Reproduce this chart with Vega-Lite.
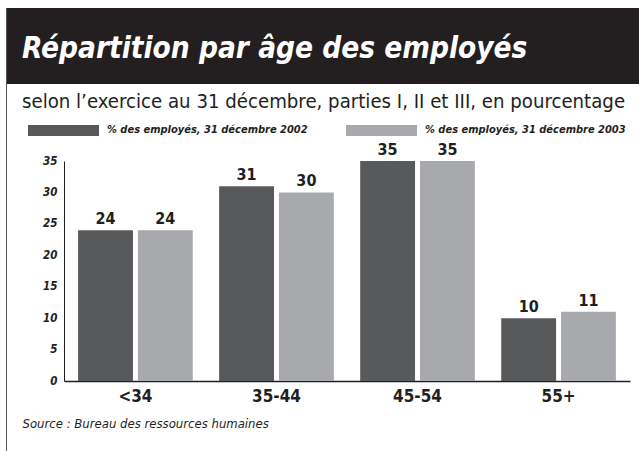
{
  "$schema": "https://vega.github.io/schema/vega-lite/v6.json",
  "padding": {"left": 6, "top": 8, "right": 0, "bottom": 0},
  "background": "white",
  "spacing": 0,
  "resolve": {"scale": {"color": "independent"}, "legend": {"color": "independent"}},
  "config": {
    "font": "DejaVu Sans Condensed, DejaVu Sans, sans-serif"
  },
  "hconcat": [
    {
      "width": 1,
      "height": 443,
      "view": {"stroke": null},
      "data": {"values": [{"band": "border"}]},
      "mark": {"type": "rect", "color": "#58595b"},
      "encoding": {}
    },
    {
      "spacing": 7,
      "resolve": {"scale": {"color": "independent"}, "legend": {"color": "independent"}},
      "vconcat": [
        {
          "width": 632,
          "height": 76,
          "view": {"fill": "#231f20", "stroke": null},
          "title": {
            "text": "Répartition par âge des employés",
            "anchor": "start",
            "frame": "group",
            "orient": "top",
            "baseline": "alphabetic",
            "offset": -79,
            "dx": 15,
            "fontSize": 29.5,
            "fontWeight": "bold",
            "fontStyle": "italic",
            "color": "white"
          },
          "data": {"values": [{"band": "header"}]},
          "mark": {"type": "rect", "color": "#231f20"},
          "encoding": {}
        },
        {
          "width": 632,
          "height": 220,
          "view": {"stroke": null},
          "title": {
            "text": "selon l’exercice au 31 décembre, parties I, II et III,  en pourcentage",
            "anchor": "start",
            "frame": "group",
            "orient": "top",
            "baseline": "alphabetic",
            "offset": -33.5,
            "dx": 15,
            "fontSize": 20.2,
            "fontWeight": "normal",
            "color": "#231f20"
          },
          "data": {
            "values": [
              {"age": "<34", "serie": "% des employés, 31 décembre 2002", "value": 24},
              {"age": "<34", "serie": "% des employés, 31 décembre 2003", "value": 24},
              {"age": "35-44", "serie": "% des employés, 31 décembre 2002", "value": 31},
              {"age": "35-44", "serie": "% des employés, 31 décembre 2003", "value": 30},
              {"age": "45-54", "serie": "% des employés, 31 décembre 2002", "value": 35},
              {"age": "45-54", "serie": "% des employés, 31 décembre 2003", "value": 35},
              {"age": "55+", "serie": "% des employés, 31 décembre 2002", "value": 10},
              {"age": "55+", "serie": "% des employés, 31 décembre 2003", "value": 11}
            ]
          },
          "encoding": {
            "x": {
              "field": "age",
              "type": "nominal",
              "sort": ["<34", "35-44", "45-54", "55+"],
              "scale": {"range": [57, 623], "paddingInner": 0.187, "paddingOuter": 0.1},
              "axis": {
                "title": "Source :  Bureau des ressources humaines",
                "titleFontSize": 13,
                "titleFontWeight": "normal",
                "titleFontStyle": "italic",
                "titleColor": "#231f20",
                "titleAnchor": "start",
                "titleAlign": "left",
                "titleBaseline": "alphabetic",
                "titleX": 15,
                "titleY": 46,
                "labelAngle": 0,
                "labelFontSize": 17,
                "labelFontWeight": "bold",
                "labelColor": "#231f20",
                "labelPadding": 7,
                "ticks": false,
                "domainColor": "#231f20",
                "domainWidth": 1.5
              }
            },
            "xOffset": {
              "field": "serie",
              "type": "nominal",
              "scale": {"paddingInner": 0.083, "paddingOuter": 0}
            },
            "y": {
              "field": "value",
              "type": "quantitative",
              "scale": {"domain": [0, 35], "nice": false},
              "axis": {
                "title": null,
                "offset": -57,
                "values": [0, 5, 10, 15, 20, 25, 30, 35],
                "grid": false,
                "ticks": false,
                "labelFontSize": 11.5,
                "labelFontWeight": "bold",
                "labelFontStyle": "italic",
                "labelColor": "#231f20",
                "labelPadding": 7,
                "domainColor": "#231f20",
                "domainWidth": 1
              }
            }
          },
          "layer": [
            {
              "mark": {"type": "bar"},
              "encoding": {
                "color": {
                  "field": "serie",
                  "type": "nominal",
                  "scale": {"range": ["#58595b", "#a7a9ac"]},
                  "legend": {
                    "title": null,
                    "orient": "none",
                    "legendX": 21,
                    "legendY": -66.5,
                    "direction": "horizontal",
                    "symbolType": "M-1,-0.155H1V0.155H-1Z",
                    "symbolSize": 5041,
                    "symbolStrokeWidth": 0,
                    "symbolOpacity": 1,
                    "labelOffset": 8,
                    "columnPadding": 38,
                    "labelFontSize": 11,
                    "labelFontWeight": "bold",
                    "labelFontStyle": "italic",
                    "labelColor": "#231f20",
                    "labelLimit": 400
                  }
                }
              }
            },
            {
              "mark": {
                "type": "text",
                "baseline": "alphabetic",
                "dy": -6,
                "fontSize": 16,
                "fontWeight": "bold",
                "color": "#231f20"
              },
              "encoding": {
                "text": {"field": "value", "type": "quantitative"}
              }
            }
          ]
        }
      ]
    }
  ]
}
